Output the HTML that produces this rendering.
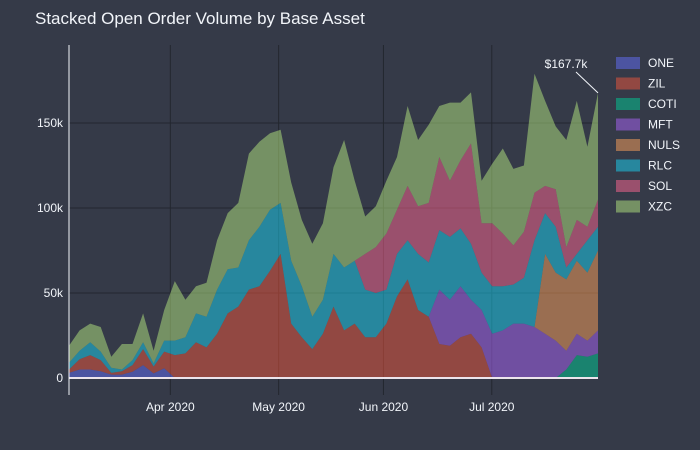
<!DOCTYPE html>
<html><head><meta charset="utf-8">
<style>
body{margin:0;background:#353a48;}
svg{display:block;font-family:"Liberation Sans",sans-serif;}
</style></head>
<body>
<svg id="chart" width="700" height="450" viewBox="0 0 700 450">
<rect width="700" height="450" fill="#353a48"/>
<text x="35" y="24" fill="#f2f5fa" font-size="17">Stacked Open Order Volume by Base Asset</text>
<g id="grid"></g>
<g id="areas"></g>
<g id="axes"></g>
<g id="legend"></g>
</svg>
<script>
const seriesNames = ["ONE","ZIL","COTI","MFT","NULS","RLC","SOL","XZC"];
const seriesColors = ["#636efa","#EF553B","#00cc96","#ab63fa","#FFA15A","#19d3f3","#FF6692","#B6E880"];
const yTicks = [0,50,100,150];
const yTickLabels = ["0","50k","100k","150k"];
const xTickDays = [29,60,90,121];
const xTickLabels = ["Apr 2020","May 2020","Jun 2020","Jul 2020"];
// values in thousands, one point every ~3 days from Mar 3 to Jul 31 2020
const ONE = [3,5,5,4,2,2,3.7,7.6,2.7,5.7,0,0,0,0,0,0,0,0,0,0,0,0,0,0,0,0,0,0,0,0,0,0,0,0,0,0,0,0,0,0,0,0,0,0,0,0,0,0,0,0,0];
const ZIL = [2,6,8.5,6.5,1,2,3.9,9.4,4,9.8,13.5,14.5,21,18,26,38,42,52,54,63,73,32,24,17,26,42,28,32,24,24,32,48,58,40,36,20,19,24,26,18,0,0,0,0,0,0,0,0,0,0,0];
const COTI = [0,0,0,0,0,0,0,0,0,0,0,0,0,0,0,0,0,0,0,0,0,0,0,0,0,0,0,0,0,0,0,0,0,0,0,0,0,0,0,0,0,0,0,0,0,0,0,5,13.5,12.5,14.5];
const MFT = [0,0,0,0,0,0,0,0,0,0,0,0,0,0,0,0,0,0,0,0,0,0,0,0,0,0,0,0,0,0,0,0,0,0,0,32,27,30,20,22,26,28,32,32,30,26,22,11,12.5,9.5,13.5];
const NULS = [0,0,0,0,0,0,0,0,0,0,0,0,0,0,0,0,0,0,0,0,0,0,0,0,0,0,0,0,0,0,0,0,0,0,0,0,0,0,0,0,0,0,0,0,0,47,40,42,43,40,47];
const RLC = [4,5,7.5,5,3,1,2.9,4,1.9,6.5,8.5,9.5,17,18,26,26,23,29,35,36,30,37,30,19,20,31,37,37,28,26,20,25,23,33,32,35,37,34,33,22,28,26,23,27,51,24,27,7,4,19,14];
const SOL = [0,0,0,0,0,0,0,0,0,0,0,0,0,0,0,0,0,0,0,0,0,0,0,0,0,0,0,0,21,27,33,26,32,28,35,43,33,40,59,29,37,31,23,27,28,16,22,12,20,8,16];
const XZC = [10,12,11,14.5,6.5,15,9.5,17,7.4,18,35,22,16,20,29,33,38,51,50,45,43,46,39,43,45,51,75,47,22,24,31,31,47,39,46,30,46,34,30,25,35,50,45,39,70,50,37,63,70,47,62.7];
const seriesData = [ONE,ZIL,COTI,MFT,NULS,RLC,SOL,XZC];
const totalLabel = "$167.7k";

const NS="http://www.w3.org/2000/svg";
const X0=69,X1=598,Y0=378,PXK=1.7,DMAX=151.4;
const xs=d=>X0+(d/DMAX)*(X1-X0);
const ys=v=>Y0-v*PXK;
const n=XZC.length;
const days=[];for(let i=0;i<n;i++)days.push(i*DMAX/(n-1));
function mk(tag,attrs,parent){const e=document.createElementNS(NS,tag);for(const k in attrs)e.setAttribute(k,attrs[k]);parent.appendChild(e);return e;}
const grid=document.getElementById('grid'),areas=document.getElementById('areas'),axes=document.getElementById('axes'),legend=document.getElementById('legend');
yTicks.forEach((t,i)=>{
  if(t>0){const l=mk('line',{x1:X0,x2:X1,y1:ys(t),y2:ys(t),stroke:'#23272f','stroke-width':1},grid);
  
  }
  const tx=mk('text',{x:63,y:ys(t)+4,fill:'#f2f5fa','font-size':12,'text-anchor':'end'},axes);
  tx.textContent=yTickLabels[i];
  
  
});
xTickDays.forEach((d,i)=>{
  const l=mk('line',{x1:xs(d),x2:xs(d),y1:45,y2:395,stroke:'#23272f','stroke-width':1},grid);
  
  
  const tx=mk('text',{x:xs(d),y:411,fill:'#f2f5fa','font-size':12,'text-anchor':'middle'},axes);
  tx.textContent=xTickLabels[i];
  
  
});
let base=new Array(n).fill(0);
seriesData.forEach((arr,s)=>{
  const top=base.map((b,i)=>b+arr[i]);
  let pts=[];
  for(let i=0;i<n;i++)pts.push(xs(days[i]).toFixed(1)+','+ys(top[i]).toFixed(1));
  for(let i=n-1;i>=0;i--)pts.push(xs(days[i]).toFixed(1)+','+ys(base[i]).toFixed(1));
  const p=mk('polygon',{points:pts.join(' '),fill:seriesColors[s],'fill-opacity':0.5},areas);
  
  
  base=top;
});
const zl=mk('line',{x1:X0,x2:X1,y1:Y0,y2:Y0,stroke:'#ece4ec','stroke-width':2},axes);


const yl=mk('line',{x1:X0,x2:X0,y1:45,y2:395,stroke:'#f2f5fa','stroke-width':1},axes);


const lastY=ys(base[n-1]);
const al=mk('line',{x1:576,y1:72,x2:xs(days[n-1]),y2:lastY,stroke:'#f2f5fa','stroke-width':1},axes);


const at=mk('text',{x:566,y:68,fill:'#f2f5fa','font-size':12,'text-anchor':'middle'},axes);
at.textContent=totalLabel;


seriesNames.forEach((nm,s)=>{
  const y=63+s*20.5;
  const r=mk('rect',{x:616,y:y-6,width:24,height:12,fill:seriesColors[s],'fill-opacity':0.5},legend);
  
  
  const t=mk('text',{x:648,y:y+4,fill:'#f2f5fa','font-size':12},legend);
  t.textContent=nm;
  
  
});
</script>
</body></html>
